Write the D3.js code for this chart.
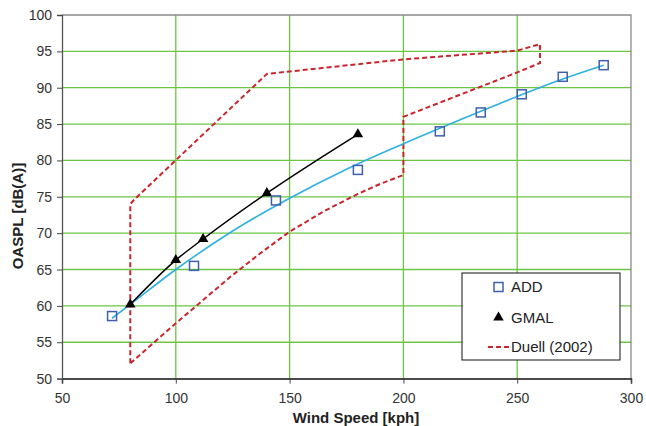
<!DOCTYPE html>
<html>
<head>
<meta charset="utf-8">
<script src="https://cdn.jsdelivr.net/npm/d3@7"></script>
<style>
  body { margin: 0; background: #fff; }
  svg { display: block; font-family: "Liberation Sans", Arial, sans-serif; }
</style>
</head>
<body>
<svg id="chart" width="646" height="426"></svg>
<script>
// values
const xTicks = [50, 100, 150, 200, 250, 300];
const yTicks = [50, 55, 60, 65, 70, 75, 80, 85, 90, 95, 100];

const addSpeed = [72, 108, 144, 180, 216, 234, 252, 270, 288];
const addSpl = [58.6, 65.5, 74.5, 78.7, 84.0, 86.6, 89.1, 91.5, 93.1];

const addFitSpeed = [72, 80, 100, 125, 150, 175, 200, 225, 250, 270, 288];
const addFitSpl = [58.3, 60.2, 65.0, 70.3, 74.8, 78.8, 82.3, 85.6, 88.8, 91.2, 93.1];

const gmalSpeed = [80, 100, 112, 140, 180];
const gmalSpl = [60.2, 66.3, 69.2, 75.5, 83.6];

const duellSpeed = [80, 80, 82, 140, 200, 250, 260, 260, 250, 200, 200, 190, 180, 165, 150, 137, 124, 100, 80];
const duellSpl = [52.1, 74.0, 74.7, 91.9, 93.9, 95.1, 96.0, 93.4, 92.1, 86.0, 78.0, 76.8, 75.4, 73.0, 70.2, 67.2, 64.0, 57.6, 52.1];

const legendItems = ["ADD", "GMAL", "Duell (2002)"];

const svg = d3.select("#chart");

const plot = { left: 62, right: 631, top: 15, bottom: 378.6 };

const x = d3.scaleLinear().domain([50, 300]).range([plot.left, plot.right]);
const y = d3.scaleLinear().domain([50, 100]).range([plot.bottom, plot.top]);

const gridColor = "#6cc644";
const red = "#c8262c";
const cyan = "#2fb0e2";
const blue = "#3f5fae";

// grid
svg.append("g")
    .selectAll("line")
    .data(yTicks.slice(1, -1))
    .enter().append("line")
    .attr("x1", plot.left).attr("x2", plot.right)
    .attr("y1", d => y(d)).attr("y2", d => y(d))
    .attr("stroke", gridColor).attr("stroke-width", 1.3);

svg.append("g")
    .selectAll("line")
    .data(xTicks.slice(1, -1))
    .enter().append("line")
    .attr("x1", d => x(d)).attr("x2", d => x(d))
    .attr("y1", plot.top).attr("y2", plot.bottom)
    .attr("stroke", gridColor).attr("stroke-width", 1.3);

// frame top / right
svg.append("path")
    .attr("d", `M${plot.left},${plot.top}H${plot.right}V${plot.bottom}`)
    .attr("fill", "none").attr("stroke", "#8a8a8a").attr("stroke-width", 1.3);

// axes
const xAxis = svg.append("g")
    .attr("transform", `translate(0,${plot.bottom})`)
    .call(d3.axisBottom(x).tickValues(xTicks).tickSize(5).tickPadding(9));
const yAxis = svg.append("g")
    .attr("transform", `translate(${plot.left},0)`)
    .call(d3.axisLeft(y).tickValues(yTicks).tickSize(5).tickPadding(5));

xAxis.select(".domain").attr("stroke", "#111").attr("stroke-width", 1.5);
yAxis.select(".domain").attr("stroke", "#555").attr("stroke-width", 1.3);
[xAxis, yAxis].forEach(a => {
    a.selectAll(".tick text")
        .attr("font-size", 14)
        .attr("font-family", "Liberation Sans, Arial, sans-serif")
        .attr("fill", "#333");
    a.selectAll(".tick line").attr("stroke", "#444");
});

// axis titles
svg.append("text")
    .attr("x", 356).attr("y", 423)
    .attr("text-anchor", "middle")
    .attr("font-size", 15).attr("font-weight", "bold").attr("fill", "#222")
    .text("Wind Speed [kph]");

svg.append("text")
    .attr("transform", "translate(23,216) rotate(-90)")
    .attr("text-anchor", "middle")
    .attr("font-size", 15).attr("font-weight", "bold").attr("fill", "#222")
    .text("OASPL [dB(A)]");

// Duell (2002) envelope
const duellPts = duellSpeed.map((s, i) => [s, duellSpl[i]]);
svg.append("path")
    .datum(duellPts)
    .attr("d", d3.line().x(d => x(d[0])).y(d => y(d[1])))
    .attr("fill", "none")
    .attr("stroke", red).attr("stroke-width", 2)
    .attr("stroke-dasharray", "5,3");

// ADD trend line
const fitPts = addFitSpeed.map((s, i) => [s, addFitSpl[i]]);
svg.append("path")
    .datum(fitPts)
    .attr("d", d3.line().curve(d3.curveMonotoneX).x(d => x(d[0])).y(d => y(d[1])))
    .attr("fill", "none").attr("stroke", cyan).attr("stroke-width", 1.6);

// GMAL line
const gmalPts = gmalSpeed.map((s, i) => [s, gmalSpl[i]]);
svg.append("path")
    .datum(gmalPts)
    .attr("d", d3.line().curve(d3.curveMonotoneX).x(d => x(d[0])).y(d => y(d[1])))
    .attr("fill", "none").attr("stroke", "#000").attr("stroke-width", 1.5);

const tri = d3.symbol().type(d3.symbolTriangle).size(48);
svg.append("g")
    .selectAll("path")
    .data(gmalPts)
    .enter().append("path")
    .attr("transform", d => `translate(${x(d[0])},${y(d[1])})`)
    .attr("d", tri)
    .attr("fill", "#000");

// ADD markers
const addPts = addSpeed.map((s, i) => [s, addSpl[i]]);
svg.append("g")
    .selectAll("rect")
    .data(addPts)
    .enter().append("rect")
    .attr("x", d => x(d[0]) - 4.5).attr("y", d => y(d[1]) - 4.5)
    .attr("width", 9).attr("height", 9)
    .attr("fill", "none").attr("stroke", blue).attr("stroke-width", 1.5);

// legend
const lg = svg.append("g");
lg.append("rect")
    .attr("x", 462).attr("y", 273).attr("width", 158).attr("height", 87)
    .attr("fill", "#fff").attr("stroke", "#111").attr("stroke-width", 1);

const rowY = [287, 317.5, 347];
lg.append("rect")
    .attr("x", 494).attr("y", rowY[0] - 4.5).attr("width", 9).attr("height", 9)
    .attr("fill", "none").attr("stroke", blue).attr("stroke-width", 1.5);
lg.append("path")
    .attr("transform", `translate(498.5,${rowY[1]})`)
    .attr("d", tri).attr("fill", "#000");
lg.append("line")
    .attr("x1", 488).attr("x2", 509).attr("y1", rowY[2]).attr("y2", rowY[2])
    .attr("stroke", red).attr("stroke-width", 2).attr("stroke-dasharray", "5,3");

lg.selectAll("text.item")
    .data(legendItems)
    .enter().append("text")
    .attr("class", "item")
    .attr("x", 511).attr("y", (d, i) => rowY[i])
    .attr("dy", "0.35em")
    .attr("font-size", 15).attr("fill", "#222")
    .text(d => d);
</script>
</body>
</html>
